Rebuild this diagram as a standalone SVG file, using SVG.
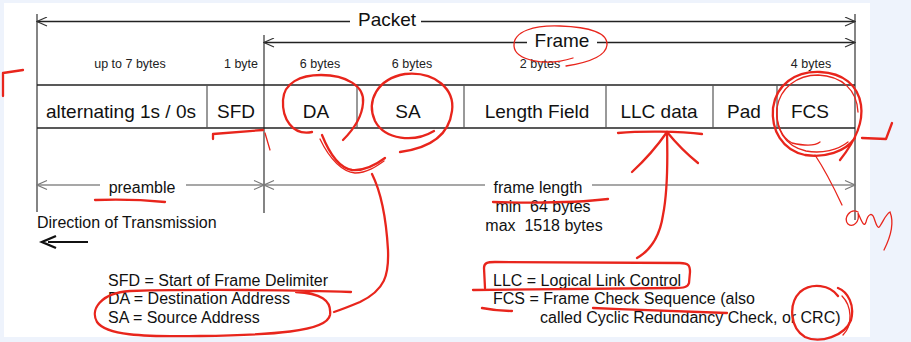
<svg xmlns="http://www.w3.org/2000/svg" width="911" height="342" viewBox="0 0 911 342">
  <defs>
    <style>
      .t { font-family: "Liberation Sans", Arial, sans-serif; fill: #111; }
      .big { font-size: 19px; }
      .mid { font-size: 16px; }
      .small { font-size: 12.5px; fill: #222; }
      .c { text-anchor: middle; }
      .dim { stroke: #222; stroke-width: 1.3; fill: none; }
      .dimg { stroke: #8a8a8a; stroke-width: 1.3; fill: none; }
      .ext { stroke: #333; stroke-width: 1.2; fill: none; }
      .box { stroke: #222; stroke-width: 1.3; fill: none; }
      .div { stroke: #555; stroke-width: 1.2; fill: none; }
      .ink { stroke: #e8251c; stroke-width: 2.3; fill: none; stroke-linecap: round; stroke-linejoin: round; }
      .inkthin { stroke: #e8251c; stroke-width: 1.3; fill: none; stroke-linecap: round; }
    </style>
    <marker id="headDark" viewBox="0 0 12 10" refX="11" refY="5" markerWidth="12" markerHeight="10" markerUnits="userSpaceOnUse" orient="auto-start-reverse">
      <path d="M1,0.5 L11,5 L1,9.5" fill="none" stroke="#333" stroke-width="1.1"/>
    </marker>
    <marker id="headGray" viewBox="0 0 12 10" refX="11" refY="5" markerWidth="12" markerHeight="10" markerUnits="userSpaceOnUse" orient="auto-start-reverse">
      <path d="M1,0.5 L11,5 L1,9.5" fill="none" stroke="#777" stroke-width="1.1"/>
    </marker>
  </defs>

  <!-- page -->
  <rect x="0" y="0" width="911" height="342" fill="#eef3fc"/>
  <rect x="4" y="3" width="866" height="334" fill="#ffffff"/>

  <!-- extension lines and dimension lines -->
  <g id="connectors">
    <line class="ext" x1="37" y1="14" x2="37" y2="212"/>
    <line class="ext" x1="264" y1="35" x2="264" y2="213"/>
    <line class="ext" x1="855" y1="14" x2="855" y2="220"/>

    <!-- Packet -->
    <line class="dim" x1="37" y1="21.5" x2="350" y2="21.5" marker-start="url(#headDark)"/>
    <line class="dim" x1="421" y1="21.5" x2="855" y2="21.5" marker-end="url(#headDark)"/>
    <!-- Frame -->
    <line class="dim" x1="264" y1="42.5" x2="527" y2="42.5" marker-start="url(#headDark)"/>
    <line class="dim" x1="597" y1="42.5" x2="855" y2="42.5" marker-end="url(#headDark)"/>
    <!-- preamble -->
    <line class="dimg" x1="37" y1="185" x2="100" y2="185" marker-start="url(#headGray)"/>
    <line class="dimg" x1="186" y1="185" x2="264" y2="185" marker-end="url(#headGray)"/>
    <!-- frame length -->
    <line class="dimg" x1="264" y1="185" x2="485" y2="185" marker-start="url(#headGray)"/>
    <line class="dimg" x1="592" y1="185" x2="855" y2="185" marker-end="url(#headGray)"/>

    <!-- direction of transmission -->
    <line x1="48" y1="242" x2="88" y2="242" stroke="#111" stroke-width="2"/>
    <path d="M56,236 L42,242 L56,248" fill="none" stroke="#111" stroke-width="2.4" stroke-linejoin="miter"/>
  </g>

  <g id="dim-labels">
    <text class="t big c" x="387" y="26">Packet</text>
    <text class="t big c" x="562" y="47">Frame</text>
    <text class="t mid c" x="142" y="193">preamble</text>
    <text class="t mid c" x="538" y="193">frame length</text>
    <text class="t mid c" x="543" y="212" xml:space="preserve">min  64 bytes</text>
    <text class="t mid c" x="544" y="231" xml:space="preserve">max  1518 bytes</text>
    <text class="t mid" x="37" y="228">Direction of Transmission</text>
  </g>

  <!-- frame fields -->
  <line class="box" x1="37" y1="85" x2="855" y2="85"/>
  <line class="box" x1="37" y1="128" x2="855" y2="128"/>

  <g id="preamble">
    <text class="t small c" x="130" y="68">up to 7 bytes</text>
    <text class="t big c" x="121" y="118">alternating 1s / 0s</text>
  </g>
  <g id="sfd">
    <line class="div" x1="207" y1="85" x2="207" y2="128"/>
    <text class="t small c" x="241" y="68">1 byte</text>
    <text class="t big c" x="236" y="118">SFD</text>
  </g>
  <g id="da">
    <text class="t small c" x="320" y="68">6 bytes</text>
    <text class="t big c" x="316" y="118">DA</text>
  </g>
  <g id="sa">
    <line class="div" x1="357" y1="85" x2="357" y2="128"/>
    <text class="t small c" x="412" y="68">6 bytes</text>
    <text class="t big c" x="408" y="118">SA</text>
  </g>
  <g id="length-field">
    <line class="div" x1="464" y1="85" x2="464" y2="128"/>
    <text class="t small c" x="540" y="68">2 bytes</text>
    <text class="t big c" x="537" y="118">Length Field</text>
  </g>
  <g id="llc-data">
    <line class="div" x1="606" y1="85" x2="606" y2="128"/>
    <text class="t big c" x="659" y="118">LLC data</text>
  </g>
  <g id="pad">
    <line class="div" x1="713" y1="85" x2="713" y2="128"/>
    <text class="t big c" x="744" y="118">Pad</text>
  </g>
  <g id="fcs">
    <line class="div" x1="777" y1="85" x2="777" y2="128"/>
    <text class="t small c" x="811" y="68">4 bytes</text>
    <text class="t big c" x="810" y="118">FCS</text>
  </g>

  <!-- abbreviations -->
  <g id="legend-left">
    <text class="t mid" x="108" y="286">SFD = Start of Frame Delimiter</text>
    <text class="t mid" x="108" y="304">DA = Destination Address</text>
    <text class="t mid" x="108" y="323">SA = Source Address</text>
  </g>
  <g id="legend-right">
    <text class="t mid" x="493" y="286">LLC = Logical Link Control</text>
    <text class="t mid" x="493" y="304">FCS = Frame Check Sequence (also</text>
    <text class="t mid" x="540" y="323">called Cyclic Redundancy Check, or CRC)</text>
  </g>

  <!-- hand-drawn red pen marks -->
  <g id="pen-marks">
    <path class="ink" d="M3,96 L3,73 L23,70"/>
    <path class="ink" d="M213,139 L213,134 L263,130"/>
    <path class="inkthin" d="M265,133 L270,150"/>
    <!-- Frame -->
    <path class="inkthin" d="M573,58 C545,67 515,60 514,46 C513,31 535,25 560,26 C590,27 608,33 607,45 C606,55 592,62 566,66"/>
    <!-- DA / SA -->
    <path class="ink" d="M312,132 C292,136 282,118 283,100 C284,83 300,75 321,75 C346,75 365,86 363,103 C362,118 353,130 343,140"/>
    <path class="ink" d="M434,131 C414,143 385,140 375,121 C366,101 377,79 405,74 C436,71 455,90 452,111 C449,135 430,148 400,152"/>
    <path class="ink" d="M322,135 C330,155 340,168 352,170 C365,171 377,164 385,158"/>
    <path class="inkthin" d="M320,139 C330,160 343,172 355,173 C367,173 377,166 384,161"/>
    <path class="ink" d="M372,174 C380,190 386,215 388,250 C389,275 385,290 360,302 C348,307 340,310 334,312"/>
    <!-- DA / SA legend -->
    <path class="ink" d="M351,292 C300,290 200,289 130,291 C100,293 90,310 97,322 C106,335 140,337 200,336 C270,335 327,332 330,315 C332,300 320,293 296,292"/>
    <path class="ink" d="M95,200 C120,199 145,200 165,202"/>
    <path class="ink" d="M493,202 C530,203 575,203 608,199"/>
    <!-- LLC -->
    <path class="ink" d="M618,133 C640,131 680,131 702,134"/>
    <path class="ink" d="M667,132 C668,170 666,200 663,215 C660,235 651,250 637,258"/>
    <path class="ink" d="M632,172 C645,160 658,145 667,132 C676,143 688,155 698,163"/>
    <path class="ink" d="M485,288 L484,268 C484,263 487,262 495,262 L680,263 C689,263 690,266 690,272 L689,283 C688,287 684,288 675,288 L473,290"/>
    <path class="ink" d="M482,308 C492,310 502,311 512,311"/>
    <path class="ink" d="M593,308 C640,310 690,312 727,313"/>
    <!-- CRC -->
    <path class="ink" d="M838,296 C830,285 812,282 800,292 C788,304 790,328 805,337 C820,344 845,336 851,320 C855,305 848,292 838,288"/>
    <path class="inkthin" d="M842,296 C852,306 853,325 843,335"/>
    <!-- FCS -->
    <path class="ink" d="M840,160 C852,145 864,125 861,105 C858,85 843,73 820,72 C795,71 776,85 773,108 C771,130 782,150 805,155 C825,158 845,152 855,138"/>
    <path class="inkthin" d="M858,112 C857,90 842,76 818,75 C797,75 780,88 777,108 C775,128 784,146 806,151 C822,154 838,150 848,142"/>
    <path class="inkthin" d="M820,142 C815,146 805,146 792,143 C782,138 776,125 777,108"/>
    <path class="inkthin" d="M815,155 C825,170 835,190 842,205"/>
    <path class="ink" d="M892,123 L886,139 L862,138"/>
    <path class="inkthin" d="M858,212 C850,208 843,218 848,224 C853,228 860,222 858,213 C862,222 864,228 866,222 C868,214 872,212 874,218 C876,224 878,230 880,226 C884,220 886,214 890,212 C894,222 891,236 884,250"/>
  </g>
</svg>
